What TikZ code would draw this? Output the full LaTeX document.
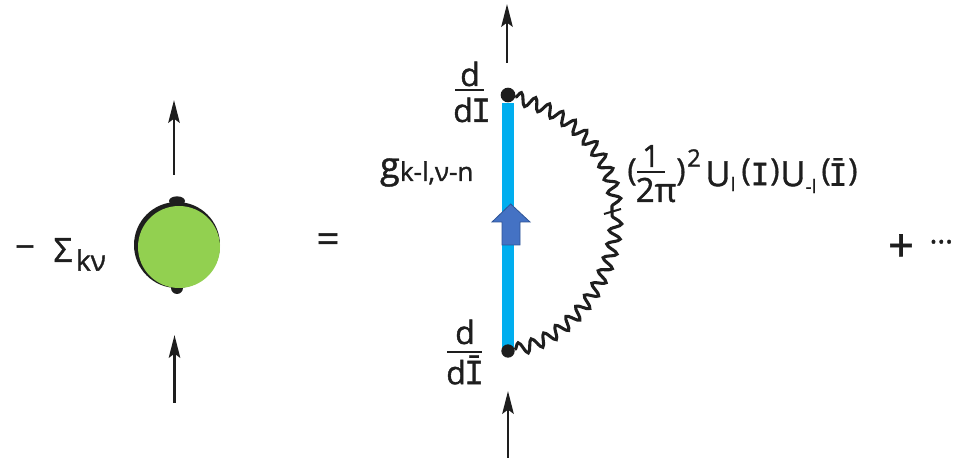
\documentclass[tikz,border=0pt]{standalone}
\usepackage{fontspec}
\setmainfont[FakeBold=1.2]{Open Sans}
\newfontfamily\monoI[FakeBold=1.2]{DejaVu Sans Mono}
\usetikzlibrary{arrows.meta,decorations.pathmorphing,shapes.geometric}
\definecolor{inkc}{HTML}{1E1E1E}
\definecolor{lineblue}{HTML}{00AEEF}
\definecolor{blockfill}{HTML}{4472C4}
\definecolor{blockedge}{HTML}{2F5597}
\definecolor{selfgreen}{HTML}{92D050}
\newcommand{\fs}[1]{\fontsize{#1}{#1}\selectfont}
\tikzset{
  x=0.75pt,y=-0.75pt,
  txt/.style={inner sep=0pt,outer sep=0pt,text=inkc,font=\fs{21}},
  small/.style={txt,font=\fs{15}},
  fermion/.style={draw=inkc,line width=2.2pt,-{Stealth[length=17pt,width=8.5pt,inset=3pt]}},
  wiggle/.style={draw=inkc,line width=2.3pt,decorate,decoration={snake,segment length=11pt,amplitude=4.6pt}},
  vertexdot/.style={circle,fill=inkc,minimum size=10pt,inner sep=0pt},
  fracbar/.style={draw=inkc,line width=1.5pt},
  propagator/.style={draw=lineblue,line width=9pt},
}
\begin{document}
\begin{tikzpicture}
\useasboundingbox (0,0) rectangle (954,459);
\clip (0,0) rectangle (954,459);
% left blob
\node[txt,anchor=center,font=\fs{26}] (minus) at (25,252) {−};
\node[txt,anchor=center,font=\fs{25}] (sigma) at (63,250) {Σ};
\node[small,anchor=center,font=\fs{21}] (kv) at (91,260) {kν};
\node[ellipse,fill=inkc,minimum width=12pt,minimum height=7pt,inner sep=0pt] (blobtop) at (177,201) {};
\node[circle,fill=inkc,minimum size=9pt,inner sep=0pt] (blobbot) at (177,288) {};
\node[circle,fill=inkc,minimum size=64.5pt,inner sep=0pt] (blobback) at (177,245) {};
\node[circle,fill=selfgreen,minimum size=61.5pt,inner sep=0pt] (blob) at (179,247) {};
\coordinate (lt1) at (174,175); \coordinate (lt2) at (174,100);
\coordinate (lb1) at (174.5,403); \coordinate (lb2) at (174.5,335);
\draw[fermion] (lt1) -- (lt2);
\draw[fermion] (lb1) -- (lb2);
\node[txt,anchor=center,font=\fs{30}] (eq) at (328,243) {=};
% right diagram
\node[vertexdot,minimum size=11pt] (vtop) at (508,95) {};
\coordinate (midw) at (612,212);
\draw[propagator] (508,103) -- (508,350);
\node[vertexdot,minimum size=10pt] (vbot) at (508,351) {};
\draw[wiggle] (vtop) .. controls (565,112) and (612,150) .. (midw);
\draw[wiggle] (vbot) .. controls (565,340) and (615,280) .. (midw);
\draw[draw=inkc,line width=1.5pt] (604,214) -- (621,209);
\coordinate (rt1) at (507,63); \coordinate (rt2) at (507,4);
\coordinate (rb1) at (508,458); \coordinate (rb2) at (508,391);
\draw[fermion] (rt1) -- (rt2);
\draw[fermion] (rb1) -- (rb2);
\draw[draw=blockedge,fill=blockfill,line width=0.6pt]
  (510.7,204) -- (530,222) -- (520,222) -- (520,245) -- (502,245) -- (502,222) -- (492,222) -- cycle;
% top derivative
\node[txt,anchor=center,font=\fs{24}] (dtop) at (470,74) {d};
\draw[fracbar] (455,90) -- (484,90);
\node[txt,anchor=center,font=\fs{24}] (dItop) at (472,110) {d\kern-1pt{\monoI I}};
% bottom derivative
\node[txt,anchor=center,font=\fs{24}] (dbot) at (465,332) {d};
\draw[fracbar] (447,352) -- (482,352);
\node[txt,anchor=center,font=\fs{24}] (dIbot) at (465,370) {d\kern-1pt{\monoI Ī}};
% propagator label
\node[txt,anchor=base west,font=\fs{27}] (g) at (380,178) {g};
\node[small,anchor=base west,font=\fs{19.5}] (gsub) at (400,181) {k-l,ν-n};
% vertex factor
\node[txt,anchor=center,font=\fs{23}] (po) at (632,172) {(};
\node[txt,anchor=center,font=\fs{23}] (one) at (651,156) {1};
\draw[fracbar] (637,172) -- (665,172);
\node[txt,anchor=center,font=\fs{25}] (twopi) at (656,190) {2π};
\node[txt,anchor=center,font=\fs{23}] (pc) at (681,172) {)};
\node[small,anchor=center,font=\fs{18}] (sq) at (694,158) {2};
\node[txt,anchor=center,font=\fs{26}] (u1) at (718,174) {U};
\node[small,anchor=center,font=\fs{14}] (u1s) at (733,184) {l};
\node[txt,anchor=center,font=\fs{23}] (pa) at (746,172) {(};
\node[txt,anchor=center,font=\fs{23}\monoI] (i1) at (760,174) {I};
\node[txt,anchor=center,font=\fs{23}] (pb) at (775,172) {)};
\node[txt,anchor=center,font=\fs{26}] (u2) at (793,174) {U};
\node[small,anchor=center,font=\fs{14}] (u2s) at (811,186) {-l};
\node[txt,anchor=center,font=\fs{23}] (pd) at (826,172) {(};
\node[txt,anchor=center,font=\fs{23}\monoI] (i2) at (838,172) {Ī};
\node[txt,anchor=center,font=\fs{23}] (pe) at (853,172) {)};
\node[txt,anchor=center,font=\fs{34}] (plus) at (901,248) {+};
\node[txt,anchor=east,font=\fs{22}] (dots) at (953,246) {···};
\end{tikzpicture}
\end{document}
